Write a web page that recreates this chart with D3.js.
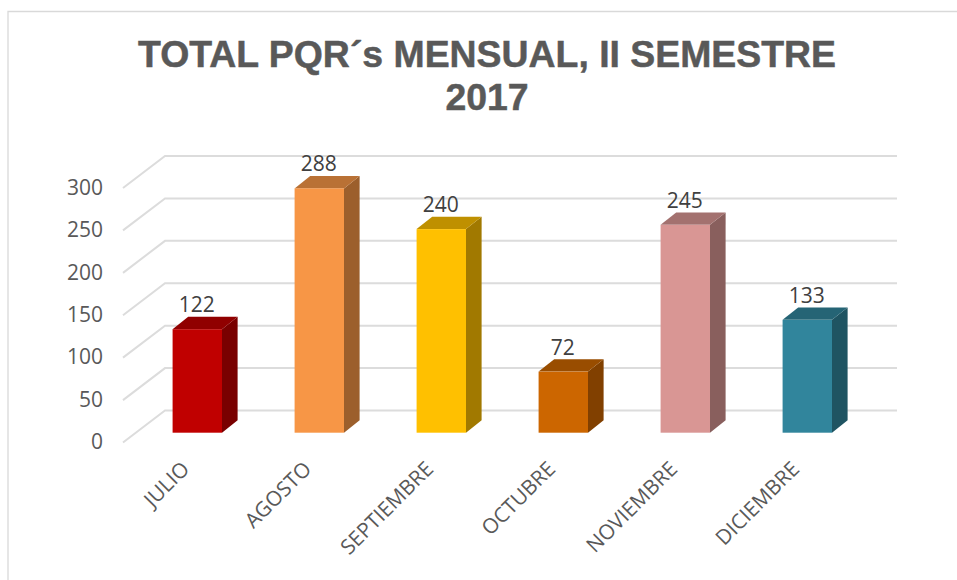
<!DOCTYPE html>
<html>
<head>
<meta charset="utf-8">
<title>TOTAL PQR´s MENSUAL</title>
<script src="https://cdn.jsdelivr.net/npm/d3@7"></script>
<style>
	html, body { margin: 0; padding: 0; background: #fff; }
	svg { display: block; }
	.axis text { font-family: "Open Sans", sans-serif; fill: #595959; }
	.axis path, .axis line { display: none; }
</style>
</head>
<body>
<svg id="chart" width="957" height="580"></svg>
<script>
var meses = ["JULIO", "AGOSTO", "SEPTIEMBRE", "OCTUBRE", "NOVIEMBRE", "DICIEMBRE"];
var totales = [122, 288, 240, 72, 245, 133];
var colores = ["#c00000", "#f79646", "#ffc000", "#cc6600", "#d99694", "#31859c"];
var yTicks = [0, 50, 100, 150, 200, 250, 300];
var tituloLineas = ["TOTAL PQR´s MENSUAL, II SEMESTRE", "2017"];

var floorDx = 42, floorDy = 32;	// depth of the floor, front edge to back wall
var barDx = 15.6, barDy = 12.4;	// depth of one bar

var svg = d3.select("#chart");

// frame, only top and left are visible in the picture
svg.append("path")
	.attr("d", "M8,580V11.5H957")
	.attr("fill", "none")
	.attr("stroke", "#d9d9d9")
	.attr("stroke-width", 1.3);

svg.append("g").selectAll("text")
	.data(tituloLineas)
	.join("text")
	.attr("x", 487)
	.attr("y", function (d, i) { return 67 + i * 42.5; })
	.attr("text-anchor", "middle")
	.attr("font-family", "'Liberation Sans', Arial, sans-serif")
	.attr("font-weight", "bold")
	.attr("font-size", 37.4)
	.attr("fill", "#595959")
	.attr("stroke", "#595959")
	.attr("stroke-width", 0.5)
	.text(function (d) { return d; });

var x = d3.scaleBand().domain(meses).range([136.3, 868.3]).paddingInner(0.595).paddingOuter(0.2975);
var yBack = d3.scaleLinear().domain([0, 300]).range([410.5, 156]);	// gridlines on the back wall
var yBar = d3.scaleLinear().domain([0, 300]).range([432.7, 178.2]);	// front face of the bars

/**
 * Gridlines: one diagonal on the floor side, then straight along the back wall
 */
svg.append("g").selectAll("path")
	.data(yTicks)
	.join("path")
	.attr("d", function (d) {
		var yb = yBack(d);
		return "M" + (165 - floorDx) + "," + (yb + floorDy) + "L165," + yb + "H897";
	})
	.attr("fill", "none")
	.attr("stroke", "#dcdcdc")
	.attr("stroke-width", 2);

var bars = svg.append("g").selectAll("g")
	.data(meses)
	.join("g");

// side face
bars.append("path")
	.attr("fill", function (d, i) { return shade(colores[i], 0.63); })
	.attr("d", function (d, i) {
		var r = x(d) + x.bandwidth(), t = yBar(totales[i]), b = yBar(0);
		return "M" + r + "," + t + "l" + barDx + "," + (-barDy) + "V" + (b - barDy) + "L" + r + "," + b + "Z";
	});

// top face
bars.append("path")
	.attr("fill", function (d, i) { return shade(colores[i], 0.75); })
	.attr("d", function (d, i) {
		var l = x(d), t = yBar(totales[i]);
		return "M" + l + "," + t + "l" + barDx + "," + (-barDy) + "h" + x.bandwidth() + "l" + (-barDx) + "," + barDy + "Z";
	});

// front face
bars.append("rect")
	.attr("x", function (d) { return x(d); })
	.attr("y", function (d, i) { return yBar(totales[i]); })
	.attr("width", x.bandwidth())
	.attr("height", function (d, i) { return yBar(0) - yBar(totales[i]); })
	.attr("fill", function (d, i) { return colores[i]; });

// value labels
bars.append("text")
	.attr("x", function (d) { return x(d) + x.bandwidth() / 2 - 0.5; })
	.attr("y", function (d, i) { return yBar(totales[i]) - 17; })
	.attr("text-anchor", "middle")
	.attr("font-family", "'Open Sans', sans-serif")
	.attr("font-size", 21)
	.attr("fill", "#404040")
	.text(function (d, i) { return totales[i]; });

// y axis sits at the front end of the diagonals
var yAxisScale = yBack.copy().range([410.5 + floorDy, 156 + floorDy]);
svg.append("g")
	.attr("class", "axis")
	.attr("transform", "translate(112,0)")
	.call(d3.axisLeft(yAxisScale).tickValues(yTicks).tickSize(0).tickPadding(9))
	.call(function (g) { g.selectAll("text").attr("font-size", 21).attr("dy", "0.3em"); })
	.attr("font-size", null)
	.attr("font-family", null);

var xAxis = svg.append("g")
	.attr("class", "axis")
	.attr("transform", "translate(0,460)")
	.call(d3.axisBottom(x).tickSize(0).tickPadding(0))
	.attr("font-size", null)
	.attr("font-family", null);

xAxis.selectAll("text")
	.attr("font-size", 20.8)
	.attr("text-anchor", "end")
	.attr("dy", "0.7em")
	.attr("transform", "translate(-17,0) rotate(-45)");

function shade (c, k) {
	var o = d3.rgb(c);
	return d3.rgb(o.r * k, o.g * k, o.b * k).formatHex();
}
</script>
</body>
</html>
